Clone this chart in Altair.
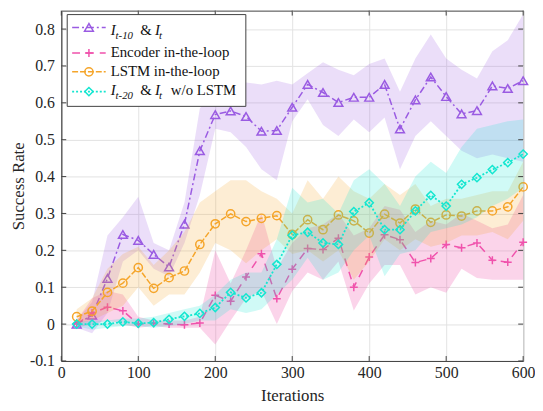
import altair as alt
import pandas as pd

# ---------------- data ----------------
iterations = [20, 40, 60, 80, 100, 120, 140, 160, 180, 200,
              220, 240, 260, 280, 300, 320, 340, 360, 380, 400,
              420, 440, 460, 480, 500, 520, 540, 560, 580, 600]

# I_{t-10} & I_t
purple_mean = [0.000, 0.024, 0.124, 0.243, 0.227, 0.189, 0.155, 0.271, 0.470, 0.568,
               0.578, 0.563, 0.523, 0.525, 0.588, 0.650, 0.628, 0.601, 0.615, 0.615,
               0.650, 0.529, 0.608, 0.670, 0.617, 0.570, 0.579, 0.646, 0.639, 0.660]
purple_hi = [0.010, 0.060, 0.240, 0.290, 0.345, 0.220, 0.200, 0.330, 0.585, 0.630,
             0.650, 0.655, 0.650, 0.660, 0.650, 0.680, 0.710, 0.690, 0.675, 0.705,
             0.720, 0.630, 0.720, 0.785, 0.720, 0.690, 0.666, 0.740, 0.770, 0.840]
purple_lo = [-0.010, -0.025, 0.030, 0.170, 0.200, 0.150, 0.130, 0.220, 0.350, 0.530,
             0.520, 0.480, 0.420, 0.390, 0.550, 0.610, 0.540, 0.510, 0.555, 0.520,
             0.560, 0.420, 0.510, 0.550, 0.510, 0.470, 0.450, 0.460, 0.450, 0.440]

# Encoder in-the-loop
pink_mean = [0.000, 0.030, 0.046, 0.036, 0.000, 0.002, 0.000, -0.002, 0.003, 0.078,
             0.062, 0.128, 0.191, 0.069, 0.149, 0.205, 0.202, 0.233, 0.100, 0.182,
             0.242, 0.229, 0.167, 0.178, 0.216, 0.207, 0.220, 0.173, 0.168, 0.222]
pink_hi = [0.010, 0.070, 0.090, 0.080, 0.020, 0.010, 0.010, 0.010, 0.020, 0.200,
           0.110, 0.200, 0.300, 0.150, 0.220, 0.260, 0.270, 0.300, 0.240, 0.260,
           0.320, 0.310, 0.250, 0.280, 0.270, 0.300, 0.280, 0.260, 0.270, 0.350]
pink_lo = [-0.010, 0.000, 0.010, 0.000, -0.010, -0.005, -0.010, -0.010, -0.010, -0.055,
           0.010, 0.070, 0.090, 0.000, 0.090, 0.140, 0.120, 0.170, 0.037, 0.110,
           0.160, 0.160, 0.080, 0.100, 0.085, 0.150, 0.125, 0.120, 0.120, 0.120]

# LSTM in-the-loop
orange_mean = [0.020, 0.035, 0.086, 0.111, 0.153, 0.097, 0.126, 0.144, 0.216, 0.272,
               0.299, 0.278, 0.287, 0.294, 0.243, 0.283, 0.256, 0.296, 0.280, 0.247,
               0.298, 0.274, 0.312, 0.276, 0.296, 0.293, 0.307, 0.307, 0.318, 0.372]
orange_hi = [0.040, 0.070, 0.150, 0.190, 0.210, 0.160, 0.200, 0.250, 0.330, 0.360,
             0.390, 0.390, 0.360, 0.340, 0.300, 0.390, 0.340, 0.400, 0.360, 0.340,
             0.380, 0.350, 0.380, 0.320, 0.340, 0.340, 0.350, 0.360, 0.360, 0.440]
orange_lo = [0.000, 0.010, 0.030, 0.050, 0.100, 0.050, 0.080, 0.080, 0.140, 0.220,
             0.200, 0.165, 0.200, 0.230, 0.190, 0.200, 0.170, 0.200, 0.120, 0.170,
             0.230, 0.200, 0.230, 0.210, 0.220, 0.240, 0.240, 0.250, 0.230, 0.280]

# I_{t-20} & I_t w/o LSTM
cyan_mean = [0.000, 0.000, 0.000, 0.006, 0.002, 0.004, 0.013, 0.021, 0.029, 0.045,
             0.086, 0.071, 0.085, 0.162, 0.241, 0.249, 0.220, 0.216, 0.305, 0.329,
             0.256, 0.256, 0.307, 0.349, 0.320, 0.379, 0.397, 0.419, 0.438, 0.461]
cyan_hi = [0.005, 0.010, 0.010, 0.015, 0.015, 0.020, 0.030, 0.040, 0.050, 0.080,
           0.120, 0.140, 0.140, 0.230, 0.370, 0.330, 0.340, 0.300, 0.390, 0.420,
           0.380, 0.320, 0.400, 0.440, 0.410, 0.480, 0.530, 0.540, 0.550, 0.555]
cyan_lo = [-0.005, -0.015, -0.010, -0.005, -0.005, -0.010, -0.005, 0.000, 0.010, 0.010,
           0.040, 0.030, 0.040, 0.080, 0.120, 0.180, 0.120, 0.140, 0.200, 0.240,
           0.130, 0.190, 0.200, 0.250, 0.260, 0.270, 0.290, 0.320, 0.340, 0.370]

x_ticks = [0, 100, 200, 300, 400, 500, 600]
y_ticks = [-0.1, 0.0, 0.1, 0.2, 0.3, 0.4, 0.5, 0.6, 0.7, 0.8]

# ---------------- styling ----------------
W, H = 468, 355
FONT = "Liberation Serif"
C_PURPLE = "#9A5BE2"
C_PINK = "#F052AC"
C_ORANGE = "#F5A52A"
C_CYAN = "#14E6D0"
AXIS_COL = "#404040"

xs = alt.Scale(domain=[0, 600], nice=False, zero=False)
ys = alt.Scale(domain=[-0.1, 0.85], nice=False, zero=False)

y_label_expr = ("datum.value == 0 ? '0' : (datum.value < 0 ? '-' + format(-datum.value, '.1f')"
                " : format(datum.value, '.1f'))")

x_axis = alt.Axis(values=x_ticks, title="Iterations", grid=True, ticks=False,
                  labelPadding=4, titlePadding=7, format="d", labelFlush=False)
y_axis = alt.Axis(values=y_ticks, title="Success Rate", grid=True, ticks=False,
                  labelPadding=7, titlePadding=2, labelExpr=y_label_expr, labelFlush=False)


def X(field):
    return alt.X(field, scale=xs, axis=x_axis)


def Y(field):
    return alt.Y(field, scale=ys, axis=y_axis)


def frame(mean, lo, hi):
    return pd.DataFrame({"it": iterations, "mean": mean, "lo": lo, "hi": hi})


def series(df, color, dash, shape, size, opacity=0.2, sw=1.5):
    band = alt.Chart(df).mark_area(color=color, opacity=opacity, interpolate="linear").encode(
        x=X("it:Q"), y=Y("lo:Q"), y2="hi:Q",
    )
    line = alt.Chart(df).mark_line(color=color, strokeWidth=sw, strokeDash=dash).encode(
        x=X("it:Q"), y=Y("mean:Q"),
    )
    pts = alt.Chart(df).mark_point(shape=shape, size=size, filled=False, color=color,
                                   strokeWidth=1.5, opacity=1).encode(
        x=X("it:Q"), y=Y("mean:Q"),
    )
    return [band, line, pts]


PLUS = "M-1,0L1,0M0,-1L0,1"
DASH_P = [7, 3, 2, 3]
DASH_K = [8, 6]
DASH_O = [6, 2]
DASH_C = [2, 2]

layers = []
layers += series(frame(purple_mean, purple_lo, purple_hi), C_PURPLE, DASH_P, "triangle-up", 80)
layers += series(frame(pink_mean, pink_lo, pink_hi), C_PINK, DASH_K, PLUS, 64, opacity=0.25)
layers += series(frame(orange_mean, orange_lo, orange_hi), C_ORANGE, DASH_O, "circle", 70)
layers += series(frame(cyan_mean, cyan_lo, cyan_hi), C_CYAN, DASH_C, "diamond", 70, sw=1.8)

# inward tick marks on all four sides (Matlab style)
xt = pd.DataFrame({"it": x_ticks})
yt = pd.DataFrame({"mean": y_ticks})
TL = 5
layers.append(alt.Chart(xt).mark_rule(color=AXIS_COL, strokeWidth=1).encode(
    x=X("it:Q"), y=alt.value(H), y2=alt.value(H - TL)))
layers.append(alt.Chart(xt).mark_rule(color=AXIS_COL, strokeWidth=1).encode(
    x=X("it:Q"), y=alt.value(0), y2=alt.value(TL)))
layers.append(alt.Chart(yt).mark_rule(color=AXIS_COL, strokeWidth=1).encode(
    y=Y("mean:Q"), x=alt.value(0), x2=alt.value(TL)))
layers.append(alt.Chart(yt).mark_rule(color=AXIS_COL, strokeWidth=1).encode(
    y=Y("mean:Q"), x=alt.value(W - TL), x2=alt.value(W)))

# ---------------- hand-made legend (for italic subscripts) ----------------
one = pd.DataFrame({"a": [0]})
layers.append(alt.Chart(one).mark_rect(fill="white", stroke=AXIS_COL, strokeWidth=1).encode(
    x=alt.value(6), x2=alt.value(187), y=alt.value(4), y2=alt.value(97)))

legend_rows = [
    (17, C_PURPLE, DASH_P, "triangle-up", 80, 1.5),
    (43, C_PINK, DASH_K, PLUS, 64, 1.5),
    (62, C_ORANGE, DASH_O, "circle", 70, 1.5),
    (82, C_CYAN, DASH_C, "diamond", 70, 1.8),
]
for yy, col, dash, shp, sz, sw in legend_rows:
    layers.append(alt.Chart(one).mark_rule(color=col, strokeWidth=sw, strokeDash=dash).encode(
        x=alt.value(11), x2=alt.value(45), y=alt.value(yy)))
    layers.append(alt.Chart(one).mark_point(shape=shp, size=sz, filled=False, color=col,
                                            strokeWidth=1.5, opacity=1).encode(
        x=alt.value(28), y=alt.value(yy)))


def txt(s, x, y, size=15, italic=False):
    kw = dict(text=s, font=FONT, fontSize=size, align="left", baseline="alphabetic", color="#111111")
    if italic:
        kw["fontStyle"] = "italic"
    return alt.Chart(one).mark_text(**kw).encode(x=alt.value(x), y=alt.value(y))


# row 1: I_{t-10} & I_t
layers += [txt("I", 50, 25, italic=True), txt("t-10", 55, 29, 11, True),
           txt("&", 80, 25), txt("I", 95, 25, italic=True), txt("t", 99, 29, 11, True)]
# row 2
layers.append(txt("Encoder in-the-loop", 50, 47))
# row 3
layers.append(txt("LSTM in-the-loop", 50, 66))
# row 4: I_{t-20} & I_t w/o LSTM
layers += [txt("I", 50, 85, italic=True), txt("t-20", 55, 90, 11, True),
           txt("&", 80, 85), txt("I", 95, 85, italic=True), txt("t", 99, 90, 11, True),
           txt("w/o LSTM", 111, 85)]

chart = alt.layer(*layers).properties(
    width=W, height=H,
    autosize=alt.AutoSizeParams(type="none"),
    padding={"left": 54, "top": 0, "right": 12, "bottom": 47},
    background="white",
).configure_view(
    stroke=AXIS_COL, strokeWidth=1
).configure_axis(
    labelFont=FONT, labelFontSize=16, labelColor="#262626",
    titleFont=FONT, titleFontSize=17, titleFontWeight="normal", titleColor="#262626",
    domainColor=AXIS_COL, domainWidth=1,
    gridColor="#e3e3e3", gridWidth=1,
)

chart.save("out.html", embed_options={"renderer": "svg", "actions": False})
